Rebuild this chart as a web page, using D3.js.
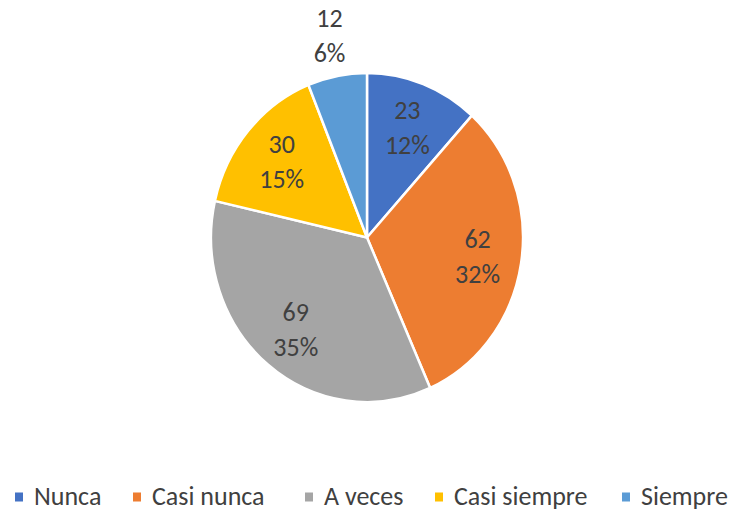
<!DOCTYPE html>
<html>
<head>
<meta charset="utf-8">
<script src="https://cdn.jsdelivr.net/npm/d3@7"></script>
<style>
  body { margin: 0; background: #fff; }
  text { font-family: Carlito, "Liberation Sans Narrow", "Liberation Sans", sans-serif; fill: #404040; }
</style>
</head>
<body>
<div id="chart"></div>
<script>
// Data
var categories = ["Nunca", "Casi nunca", "A veces", "Casi siempre", "Siempre"];
var counts = [23, 62, 69, 30, 12];
var percentLabels = ["12%", "32%", "35%", "15%", "6%"];
var colors = ["#4472C4", "#ED7D31", "#A5A5A5", "#FFC000", "#5B9BD5"];

var svgWidth = 735;
var svgHeight = 514;

var cx = 367, cy = 237.5;
var radius = 156;
var stretchY = 1.055;   // source picture is a bit taller than wide

var svg = d3.select("#chart")
  .append("svg")
  .attr("width", svgWidth)
  .attr("height", svgHeight);

var pie = d3.pie().sort(null).value(d => d);
var arcs = pie(counts);

var arc = d3.arc().innerRadius(0).outerRadius(radius);
var labelArc = d3.arc().innerRadius(112).outerRadius(112);
var outsideArc = d3.arc().innerRadius(196).outerRadius(196);

var pieGroup = svg.append("g")
  .attr("transform", `translate(${cx}, ${cy}) scale(1, ${stretchY})`);

pieGroup.selectAll("path")
  .data(arcs)
  .enter()
  .append("path")
  .attr("d", arc)
  .attr("fill", (d, i) => colors[i])
  .attr("stroke", "#fff")
  .attr("stroke-width", 2.5)
  .attr("vector-effect", "non-scaling-stroke");

// data labels: value on first line, percent below
var labelGroup = svg.append("g")
  .attr("transform", `translate(${cx}, ${cy})`);

var labels = labelGroup.selectAll(".slice-label")
  .data(arcs)
  .enter()
  .append("text")
  .classed("slice-label", true)
  .attr("text-anchor", "middle")
  .attr("font-size", "26px")
  .attr("transform", function(d, i) {
    var c = (i === 4 ? outsideArc : labelArc).centroid(d);
    return `translate(${c[0]}, ${c[1] * stretchY})`;
  });

labels.append("tspan")
  .attr("x", 0)
  .attr("y", -8)
  .text(d => d.data);

labels.append("tspan")
  .attr("x", 0)
  .attr("y", 27)
  .text((d, i) => percentLabels[i]);

// legend
var legendX = [15, 133, 305, 435, 622];
var legend = svg.append("g")
  .attr("transform", "translate(0, 497)");

var items = legend.selectAll("g")
  .data(categories)
  .enter()
  .append("g")
  .attr("transform", (d, i) => `translate(${legendX[i]}, 0)`);

items.append("rect")
  .attr("x", 0)
  .attr("y", -4.5)
  .attr("width", 8)
  .attr("height", 9)
  .attr("fill", (d, i) => colors[i]);

items.append("text")
  .attr("x", 19)
  .attr("y", 8)
  .attr("font-size", "26px")
  .text(d => d);
</script>
</body>
</html>
